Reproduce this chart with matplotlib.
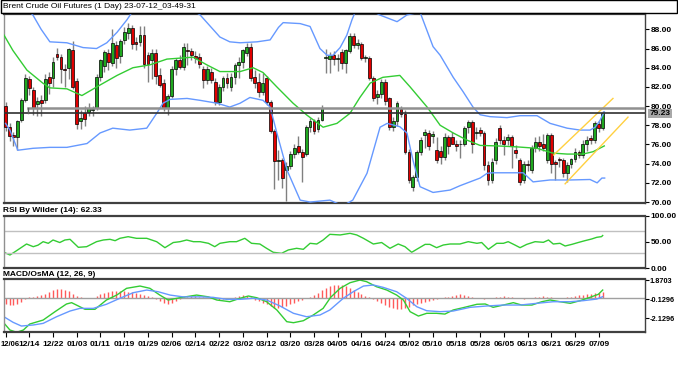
import matplotlib
matplotlib.use('Agg')
import matplotlib.pyplot as plt
from matplotlib.patches import Rectangle

# --- daily candles ---
opens = [80.0, 77.8, 77.0, 76.8, 78.5, 80.6, 82.8, 81.7, 80.2, 80.6,
         80.6, 83.0, 82.9, 85.4, 85.1, 83.9, 84.0, 85.8, 82.6, 78.4,
         79.3, 79.4, 79.6, 79.8, 83.0, 84.2, 85.5, 84.5, 86.4, 85.2,
         86.9, 87.6, 88.1, 86.7, 86.7, 87.4, 85.3, 84.8, 85.5, 83.2,
         82.4, 79.8, 81.1, 83.9, 84.8, 84.1, 85.8, 85.7, 85.2, 85.1,
         83.9, 82.7, 83.6, 82.5, 80.4, 82.0, 82.9, 82.0, 83.05, 84.3,
         84.6, 85.5, 86.2, 83.05, 82.5, 81.5, 82.9, 80.4, 77.4, 74.3,
         74.4, 73.3, 73.8, 75.0, 75.8, 75.2, 75.0, 77.8, 78.4, 77.6,
         78.6, 85.0, 84.9, 85.3, 84.9, 85.6, 84.5, 85.7, 87.3, 86.4,
         86.5, 85.0, 85.0, 82.9, 81.0, 81.3, 82.5, 80.8, 77.85, 78.4,
         79.75, 79.2, 75.2, 71.6, 72.6, 75.2, 77.0, 77.15, 76.9, 75.4,
         75.3, 74.7, 76.8, 76.8, 76.1, 76.0, 76.1, 77.85, 78.3, 77.2,
         77.5, 77.15, 73.9, 72.3, 74.4, 77.7, 76.5, 76.5, 76.8, 75.4,
         74.4, 72.3, 74.0, 73.3, 75.6, 76.3, 76.1, 74.4, 77.0, 74.2,
         74.5, 74.4, 73.0, 74.0, 74.45, 75.2, 74.9, 76.1, 76.7, 76.5,
         78.1, 77.7]
highs = [80.4, 78.2, 77.3, 78.6, 80.8, 83.3, 83.1, 82.0, 81.0, 81.2,
         83.3, 83.6, 85.1, 86.1, 85.4, 84.4, 86.1, 86.8, 82.9, 79.6,
         80.0, 80.3, 80.0, 83.3, 84.9, 85.8, 86.0, 88.0, 86.8, 87.0,
         88.2, 88.7, 88.5, 87.2, 88.4, 88.4, 85.6, 85.9, 86.0, 84.0,
         82.8, 81.3, 84.2, 85.0, 85.3, 86.6, 86.6, 86.1, 85.7, 85.5,
         84.2, 84.2, 84.0, 82.9, 82.3, 83.1, 83.4, 83.4, 84.5, 85.1,
         86.0, 86.6, 86.6, 83.8, 83.4, 83.4, 83.1, 80.6, 77.6, 75.4,
         74.6, 74.2, 75.3, 76.0, 76.9, 75.5, 78.0, 78.8, 78.7, 78.9,
         80.1, 86.0, 85.6, 85.7, 85.4, 85.9, 86.0, 87.6, 87.6, 87.0,
         86.7, 85.3, 85.2, 83.1, 81.7, 82.8, 82.8, 81.0, 78.9, 80.5,
         80.0, 79.6, 75.5, 72.8, 75.4, 76.8, 77.6, 77.5, 77.4, 76.8,
         75.8, 77.2, 77.0, 77.3, 76.5, 76.5, 77.9, 78.6, 78.5, 77.8,
         77.8, 77.4, 74.3, 74.6, 76.7, 78.0, 76.9, 77.1, 77.0, 75.9,
         74.6, 74.3, 74.4, 75.9, 76.8, 76.9, 77.1, 77.2, 77.2, 74.4,
         74.7, 74.6, 74.2, 74.6, 75.6, 75.4, 76.5, 76.9, 77.0, 78.4,
         78.4, 79.5]
lows = [77.4, 76.4, 75.8, 75.4, 78.3, 80.4, 81.2, 79.1, 79.0, 79.0,
        80.3, 81.3, 82.0, 84.8, 82.4, 82.0, 82.8, 81.8, 77.6, 77.6,
        77.9, 79.0, 79.0, 79.6, 82.6, 83.6, 83.8, 84.2, 84.0, 84.5,
        86.5, 87.0, 86.0, 85.8, 86.3, 84.0, 82.5, 82.8, 82.3, 82.0,
        79.5, 79.1, 80.8, 83.2, 83.9, 83.8, 84.3, 84.8, 84.5, 84.0,
        81.9, 82.3, 82.4, 80.1, 80.1, 81.6, 81.9, 81.6, 82.3, 82.9,
        84.0, 85.2, 82.6, 81.9, 80.9, 81.2, 80.1, 77.2, 71.4, 72.3,
        71.5, 70.1, 73.4, 74.6, 75.0, 72.1, 74.8, 77.3, 77.1, 77.3,
        78.4, 83.4, 83.5, 84.3, 83.7, 83.9, 83.5, 85.5, 86.1, 85.9,
        84.8, 84.6, 82.7, 80.5, 80.2, 80.8, 80.1, 77.5, 77.4, 77.9,
        78.9, 75.0, 72.0, 71.2, 72.2, 74.9, 75.6, 75.4, 76.2, 74.1,
        74.0, 74.4, 75.0, 76.0, 75.3, 74.6, 75.8, 77.2, 75.1, 76.6,
        76.9, 73.3, 71.8, 72.0, 74.0, 76.0, 74.9, 75.9, 73.6, 74.6,
        71.8, 72.0, 73.2, 73.0, 75.2, 75.3, 75.3, 74.1, 73.0, 72.3,
        73.7, 72.6, 72.1, 73.5, 74.2, 74.6, 74.6, 75.3, 76.1, 76.2,
        77.3, 77.5]
closes = [77.8, 76.9, 76.8, 78.4, 80.6, 82.9, 81.9, 79.8, 80.5, 80.3,
          82.8, 82.4, 84.6, 85.1, 83.9, 83.8, 85.9, 82.0, 78.1, 78.8,
          78.7, 79.8, 79.7, 83.0, 84.8, 85.6, 84.6, 86.6, 85.0, 86.8,
          87.7, 88.1, 86.5, 86.5, 87.4, 84.4, 84.4, 85.5, 83.1, 82.2,
          79.8, 81.1, 83.9, 84.8, 84.1, 86.2, 85.7, 85.3, 85.0, 84.4,
          82.7, 83.9, 82.7, 80.4, 82.0, 82.9, 82.4, 83.05, 84.3, 84.6,
          85.8, 86.2, 82.9, 82.4, 81.5, 82.4, 80.4, 77.4, 74.3, 74.4,
          72.5, 73.8, 75.0, 75.6, 75.2, 74.7, 77.8, 78.4, 77.4, 78.6,
          79.85, 85.1, 85.3, 84.9, 85.0, 84.5, 85.8, 87.3, 86.4, 86.6,
          85.0, 85.0, 82.9, 80.8, 81.3, 82.5, 80.5, 77.85, 78.4, 80.3,
          79.2, 75.2, 72.3, 72.6, 75.2, 76.5, 77.3, 75.8, 77.1, 74.4,
          74.7, 76.8, 75.8, 76.1, 75.8, 76.1, 77.7, 78.3, 76.1, 77.3,
          77.15, 73.85, 72.3, 74.2, 76.3, 76.5, 76.1, 76.8, 75.8, 75.1,
          72.1, 74.0, 73.85, 75.6, 76.3, 75.8, 75.6, 77.0, 74.0, 74.0,
          74.4, 73.0, 73.85, 74.45, 75.2, 74.9, 76.1, 76.5, 76.5, 78.2,
          77.7, 79.23]

date_labels = ['12/06', '12/14', '12/22', '01/03', '01/11', '01/19', '01/29',
               '02/06', '02/14', '02/22', '03/02', '03/12', '03/20', '03/28',
               '04/05', '04/16', '04/24', '05/02', '05/10', '05/18', '05/28',
               '06/05', '06/13', '06/21', '06/29', '07/09']

# Bollinger bands, (bar, value) samples
bb_upper = [(0, 92.5), (4, 90.6), (6.9, 89.5), (9, 88.0), (11.2, 86.7), (15.5, 86.6),
            (19.6, 86.1), (23, 86.0), (25.6, 86.6), (28.2, 87.7), (30.7, 89.0),
            (32, 89.8), (36, 90.6), (42, 90.9), (46, 90.3), (49.2, 89.5),
            (54.2, 87.2), (56.7, 86.7), (59.3, 86.6), (63.6, 86.7), (66.9, 86.9),
            (69, 88.2), (70.2, 88.7), (74.5, 88.6), (77, 88.3), (79.5, 86.0),
            (81.3, 85.3), (82.8, 85.3), (84.6, 86.1), (86.3, 87.4), (87.6, 89.0),
            (88.4, 89.8), (91, 90.3), (94.6, 89.5), (99, 88.8), (101.5, 89.5),
            (104.8, 89.8), (108.1, 86.2), (109.9, 85.3), (113.2, 83.0),
            (115.7, 81.5), (118.2, 79.9), (120, 79.1), (122.5, 78.9), (126.8, 78.8),
            (130.1, 79.0), (134.4, 79.0), (137.7, 78.2), (142, 77.7), (145.3, 77.5),
            (147.8, 77.5), (149.1, 77.8), (150.3, 78.5), (151.4, 79.4)]
bb_middle = [(-0.4, 87.4), (1.85, 85.8), (5.4, 83.75), (9.4, 82.4), (11.2, 81.9),
             (15.5, 81.8), (19.3, 81.1), (23.9, 82.2), (28.2, 83.2), (32.2, 84.0),
             (36.5, 84.3), (40.8, 84.9), (44.1, 85.0), (47.4, 85.1), (50.9, 84.3),
             (54.2, 83.6), (59.3, 83.6), (62.6, 84.0), (65.1, 83.5), (68.6, 82.0),
             (72.7, 80.3), (76.2, 79.06), (80.3, 77.8), (83.8, 78.2), (87.1, 79.25),
             (89.6, 80.9), (92.2, 82.4), (95.4, 83.0), (99.7, 83.2), (102.3, 82.0),
             (106.6, 79.9), (109.9, 78.0), (113.2, 77.2), (116.7, 76.45), (120, 75.9),
             (124.3, 75.85), (129.3, 75.75), (134.4, 75.6), (138.4, 75.1), (142, 75.0),
             (146, 75.0), (148.6, 75.25), (151.4, 75.85)]
bb_lower = [(0, 78.2), (1.1, 77.5), (3.1, 75.4), (6.9, 75.6), (11.2, 75.7), (15.5, 75.7),
            (20.6, 76.1), (23.9, 77.2), (27.1, 77.7), (31.4, 77.5), (35.7, 77.7),
            (38.3, 79.3), (39.8, 80.3), (41.6, 80.7), (45.9, 80.8), (49.2, 80.6),
            (53.5, 80.3), (56.7, 79.9), (59.3, 80.3), (61.8, 80.9), (65.1, 80.6),
            (66.9, 79.9), (68.6, 77.2), (71.2, 73.3), (74.5, 70.2), (77, 70.0),
            (82, 70.2), (85.3, 69.6), (87.8, 70.2), (91.4, 73.0), (94.7, 77.8),
            (96.5, 78.2), (99.7, 77.85), (101.5, 77.2), (103, 74.4), (104.8, 71.6),
            (108.1, 71.0), (112.4, 71.25), (114.9, 71.7), (120, 72.5), (121.8, 73.0),
            (123.3, 73.05), (130.9, 73.05), (133.4, 72.1), (137.7, 72.3), (142.8, 72.3),
            (147.8, 72.35), (149.6, 72.0), (150.8, 72.5), (151.5, 72.5)]

# trend channel drawn on the chart (start, end) per line
channel_upper = [(138.6, 74.9), (153.6, 80.8)]
channel_lower = [(141.5, 71.9), (157.4, 78.85)]
zone_top, zone_bottom, zone_start = 79.76, 79.23, 5.6
last_price = 79.23

# RSI (14), (bar, value) samples
rsi = [(-0.2, 29.7), (1.1, 25.3), (2.4, 31.6), (5.3, 46.2), (7.0, 41.1), (8.2, 44.0),
       (9.5, 50.6), (10.8, 47.5), (12.0, 53.8), (13.7, 49.0), (15.0, 53.8), (16.3, 55.1),
       (18.4, 39.9), (20.5, 41.1), (23.0, 50.6), (24.7, 53.8), (26.4, 55.1), (27.7, 52.5),
       (28.9, 57.0), (31.0, 60.1), (33.1, 57.0), (35.7, 57.0), (38.2, 50.6), (40.3, 39.2),
       (42.4, 49.0), (44.1, 50.6), (45.8, 53.8), (47.5, 50.6), (49.2, 50.6), (51.3, 47.5),
       (52.9, 41.1), (54.2, 47.5), (56.7, 50.6), (58.4, 50.6), (60.5, 57.0), (62.2, 47.5),
       (64.3, 46.2), (66.0, 38.0), (67.7, 30.4), (69.8, 28.5), (71.5, 34.9), (73.6, 38.0),
       (75.3, 36.1), (77.0, 47.5), (78.7, 46.2), (80.3, 53.8), (82.0, 64.6), (84.6, 63.4),
       (87.1, 66.5), (88.8, 63.4), (90.5, 57.0), (93.0, 46.2), (95.1, 49.0), (97.2, 38.0),
       (99.3, 46.2), (101.0, 41.1), (102.7, 30.4), (104.4, 38.0), (106.1, 45.5),
       (107.3, 45.5), (109.0, 39.2), (110.7, 44.3), (112.4, 46.2), (114.9, 46.2),
       (117.0, 50.6), (119.2, 47.5), (120.4, 49.0), (122.1, 36.1), (124.2, 47.5),
       (125.9, 47.5), (127.1, 50.6), (128.8, 44.3), (130.1, 39.2), (131.8, 45.5),
       (133.9, 50.6), (136.0, 49.4), (137.3, 53.8), (138.5, 46.2), (140.2, 47.5),
       (141.5, 42.4), (143.2, 45.5), (144.8, 49.0), (146.5, 52.5), (148.2, 55.7),
       (149.5, 58.9), (150.7, 60.2), (151.0, 62.33)]

# MACD (12, 26, 9): macd line and signal line samples, OsMA per bar
macd = [(-0.2, -2.76), (1.1, -3.39), (2.8, -3.63), (4.5, -3.39), (6.1, -2.76),
        (9.5, -2.34), (12.5, -1.46), (15.4, -0.65), (16.7, -0.51), (18.4, -0.86),
        (20.1, -1.21), (22.6, -1.21), (25.5, -0.23), (28.1, 0.29), (30.6, 1.0),
        (34.0, 1.24), (36.5, 1.0), (39.0, 0.29), (41.1, -0.23), (44.1, 0.01),
        (48.3, 0.29), (51.3, 0.1), (53.4, -0.23), (56.7, -0.41), (59.3, -0.05),
        (61.4, 0.19), (63.5, 0.01), (66.0, -0.41), (68.6, -1.28), (71.1, -2.51),
        (72.8, -2.62), (75.3, -2.41), (77.8, -1.81), (80.3, -1.11), (82.2, 0.05),
        (84.6, 1.0), (87.1, 1.59), (89.6, 1.87), (91.3, 1.7), (93.8, 1.17),
        (96.4, 0.82), (98.9, 0.29), (100.6, -0.23), (102.3, -1.46), (104.4, -1.92),
        (106.5, -1.63), (109.0, -1.63), (111.1, -1.71), (113.2, -1.28), (115.7, -1.04),
        (119.2, -0.68), (121.3, -0.65), (123.3, -1.0), (125.9, -0.76), (128.4, -0.51),
        (130.5, -0.76), (133.1, -0.76), (135.6, -0.41), (137.7, -0.23), (140.2, -0.41),
        (142.8, -0.58), (145.3, -0.3), (147.8, 0.05), (149.9, 0.37), (151.0, 0.82)]
signal = [(-0.2, -2.05), (1.9, -2.58), (4.0, -2.97), (7.0, -2.86), (9.5, -2.69),
          (12.9, -1.99), (16.3, -1.39), (18.8, -1.11), (22.2, -1.11), (25.5, -0.68),
          (28.9, -0.05), (32.3, 0.54), (35.7, 0.82), (38.6, 0.64), (41.6, 0.29),
          (44.9, 0.1), (49.2, 0.1), (52.5, 0.05), (55.9, -0.16), (59.3, -0.16),
          (62.6, -0.05), (66.0, -0.23), (69.4, -0.86), (72.8, -1.63), (76.1, -1.99),
          (79.5, -1.81), (82.0, -1.28), (85.4, -0.05), (87.9, 0.64), (90.5, 1.24),
          (93.0, 1.35), (95.5, 1.1), (98.9, 0.64), (101.4, -0.05), (104.0, -0.94),
          (106.5, -1.36), (109.9, -1.46), (113.2, -1.39), (117.5, -1.0), (121.7, -0.86),
          (125.9, -0.76), (130.1, -0.76), (134.3, -0.58), (138.5, -0.41), (142.8, -0.41),
          (146.1, -0.3), (149.5, -0.13), (151.0, 0.12)]
osma = [-0.7, -0.75, -0.75, -0.6, -0.4, -0.15,
        0.05, 0.1, 0.2,
        0.3, 0.45, 0.6, 0.8, 0.9, 0.9, 0.85, 0.7, 0.45,
        0.2, 0.05, 0.0, -0.05, 0.0,
        0.15, 0.35, 0.5, 0.6, 0.7, 0.75, 0.75, 0.7, 0.65, 0.6, 0.5, 0.4, 0.3, 0.2, 0.1,
        -0.1, -0.3, -0.5, -0.6, -0.5, -0.3, -0.1,
        0.05, 0.1, 0.15, 0.15, 0.1, 0.05, 0.0, -0.05,
        -0.15, -0.2, -0.15, -0.1, 0.0, 0.1,
        0.2, 0.25, 0.2, 0.05,
        -0.2, -0.35, -0.5, -0.7, -0.9, -1.05, -1.1, -1.0, -0.9, -0.7, -0.5, -0.35, -0.2, -0.05,
        0.1, 0.3, 0.55, 0.8, 1.05, 1.25, 1.35, 1.35, 1.3, 1.2, 1.0, 0.8, 0.6, 0.4, 0.2, 0.05,
        -0.15, -0.35, -0.55, -0.75, -0.95, -1.1, -1.2, -1.2, -1.1, -0.95, -0.8, -0.65,
        -0.5, -0.4, -0.3, -0.25, -0.15, -0.05,
        0.05, 0.1, 0.2, 0.3, 0.35, 0.3, 0.2, 0.1, 0.0, -0.05, -0.1, -0.05,
        0.0, 0.05, 0.1, 0.15, 0.1, 0.05, 0.0, -0.05, -0.1, -0.05, 0.0, 0.05, 0.1, 0.15,
        0.1, 0.05, 0.0,
        0.0, 0.0, 0.05, 0.1, 0.2, 0.25, 0.3, 0.4, 0.45, 0.5, 0.55, 0.6]
macd_ticks = [1.8703, -0.1296, -2.1296]

GREEN = '#33cc33'
BLUE = '#6699ff'
FONT = 'Liberation Sans'
W, H = 678, 367

fig = plt.figure(figsize=(W / 100, H / 100), dpi=100)


def px_box(x0, y0, x1, y1):
    return [x0 / W, 1 - y1 / H, (x1 - x0) / W, (y1 - y0) / H]


ax = fig.add_axes(px_box(4, 14, 645, 203))
ax_rsi = fig.add_axes(px_box(4, 215.7, 645, 268.3))
ax_macd = fig.add_axes(px_box(4, 279.3, 645, 332.3))

def xy(pairs):
    return [p[0] for p in pairs], [p[1] for p in pairs]

# candles
idx = list(range(len(closes)))
ax.vlines(idx, lows, highs, color='#808080', lw=1, zorder=2)
bottoms = [min(o, c) for o, c in zip(opens, closes)]
heights = [max(abs(c - o), 0.08) for o, c in zip(opens, closes)]
cols = ['#1fa81f' if c >= o else '#e00000' for o, c in zip(opens, closes)]
ax.bar(idx, heights, bottom=bottoms, width=0.72, color=cols,
       edgecolor='black', lw=0.5, zorder=3)

ax.plot(*xy(bb_upper), color=BLUE, lw=1, zorder=4)
ax.plot(*xy(bb_lower), color=BLUE, lw=1, zorder=4)
ax.plot(*xy(bb_middle), color=GREEN, lw=1, zorder=4)
ax.plot(*xy(channel_upper), color='#ffd040', lw=1, zorder=4)
ax.plot(*xy(channel_lower), color='#ffd040', lw=1, zorder=4)

ax.axhline(zone_bottom, color='#303030', lw=1.2, zorder=5)
ax.plot([zone_start, 200], [zone_top, zone_top], color='#909090', lw=1.8, zorder=5)
ax.plot([zone_start, zone_start], [zone_bottom, zone_top], color='#606060', lw=1, zorder=5)

ax.set_ylim(69.9, 89.6)
ax.set_yticks(range(70, 89, 2))
ax.set_yticklabels(['%.2f' % v for v in range(70, 89, 2)])
price_tag = ax.text(1.007, last_price, '%.2f' % last_price,
                    transform=ax.get_yaxis_transform(), ha='left', va='center',
                    fontsize=6, fontweight='bold', family=FONT,
                    bbox=dict(boxstyle='square,pad=0.15', fc='#a8a8a8', ec='none'),
                    zorder=6, clip_on=False)

# RSI
ax_rsi.plot(*xy(rsi), color=GREEN, lw=1)
ax_rsi.axhline(70, color='#c0c0c0', lw=1)
ax_rsi.axhline(30, color='#c0c0c0', lw=1)
ax_rsi.set_ylim(0, 100)
ax_rsi.set_yticks([0, 50, 100])
ax_rsi.set_yticklabels(['0.00', '50.00', '100.00'])

# MACD
ax_macd.vlines(idx, 0, osma, color='#ff5a5a', lw=1)
ax_macd.axhline(0, color='#a0a0a0', lw=1)
ax_macd.plot(*xy(macd), color=GREEN, lw=1)
ax_macd.plot(*xy(signal), color=BLUE, lw=1)
ax_macd.set_ylim(-3.63, 1.95)
ax_macd.set_yticks(macd_ticks)
ax_macd.set_yticklabels(['%.4f' % v for v in macd_ticks])

for a in (ax, ax_rsi, ax_macd):
    a.set_xlim(-0.4, 161.7)
    a.yaxis.tick_right()
    a.tick_params(axis='y', direction='out', length=3, width=0.8, pad=1,
                  labelsize=6)
    for lab in a.get_yticklabels():
        lab.set_fontweight('bold')
        lab.set_family(FONT)
    for s in a.spines.values():
        s.set_color('#404040')
        s.set_linewidth(1)
    a.spines['top'].set_linewidth(1.6)
    a.spines['bottom'].set_linewidth(1.6)
    a.spines['left'].set_color('#909090')

ax_macd.tick_params(axis='y', labelsize=5.3, pad=0.5)

ax.set_xticks([])
ax_rsi.set_xticks([])
ax_macd.set_xticks(list(range(0, 151, 6)))
# first date sits at the left edge: drawn as its own text so it stays inside
ax_macd.set_xticklabels([''] + date_labels[1:])
ax_macd.tick_params(axis='x', direction='out', length=3.5, width=0.8, pad=3,
                    labelsize=6)
for lab in ax_macd.get_xticklabels():
    lab.set_fontweight('bold')
    lab.set_family(FONT)
fig.text(0.5 / W, 1 - 345 / H, date_labels[0], fontsize=5.5, fontweight='bold',
         family=FONT, ha='left', va='center')

# title box and panel captions
fig.patches.append(Rectangle((0.5 / W, 1 - 12.5 / H), 676.5 / W, 12 / H,
                             transform=fig.transFigure, fill=False,
                             ec='black', lw=1))
fig.text(3 / W, 1 - 6.5 / H, 'Brent Crude Oil Futures (1 Day) 23-07-12_03-49-31',
         fontsize=6, family=FONT, va='center', ha='left')
fig.text(3 / W, 1 - 210 / H, 'RSI By Wilder (14): 62.33', fontsize=6,
         fontweight='bold', family=FONT, va='center', ha='left')
fig.text(3 / W, 1 - 274 / H, 'MACD/OsMA (12, 26, 9)', fontsize=6,
         fontweight='bold', family=FONT, va='center', ha='left')

fig.savefig('out.png', dpi=100)
